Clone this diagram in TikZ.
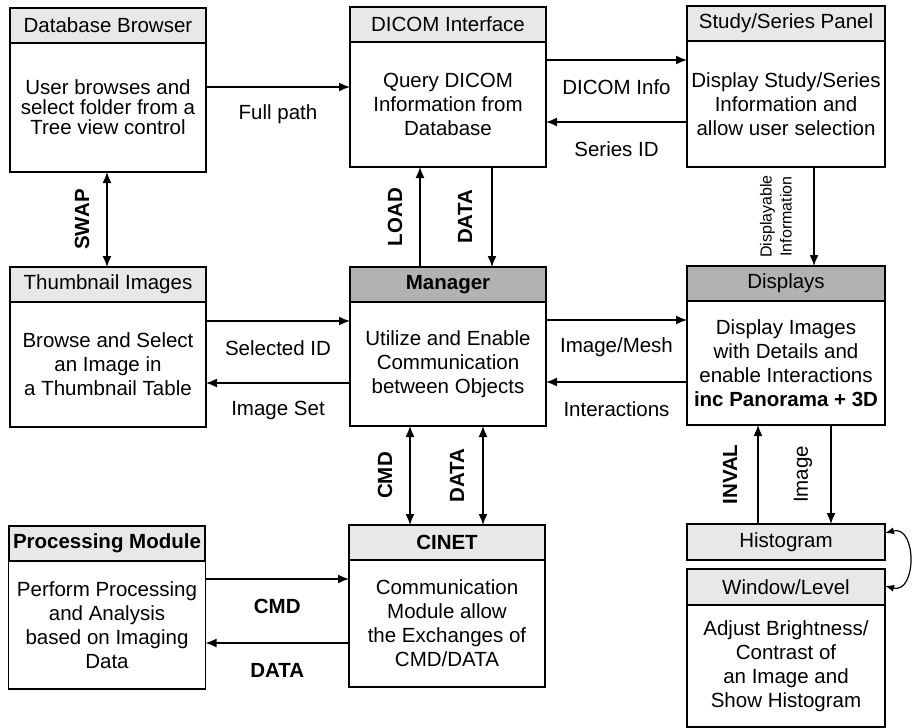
\documentclass[tikz,border=0pt]{standalone}
\usepackage{fontspec}
\setmainfont{Liberation Sans}
\usetikzlibrary{arrows.meta,positioning,calc}
\newcommand{\boxfont}{\fontsize{20.5}{24}\selectfont}
\tikzset{
    head/.style =   {rectangle,
                    fill=gray!18,
                    draw=black,
                    text=black,
                    line width=1.2pt,
                    outer sep=0pt,
                    inner sep=0pt,
                    minimum width=196pt,
                    minimum height=35pt,
                    anchor=north west},
    darkhead/.style = {head,
                    fill=gray!60},
    body/.style =   {rectangle,
                    fill=white,
                    draw=black,
                    text=black,
                    line width=1.2pt,
                    outer sep=0pt,
                    inner sep=0pt,
                    minimum width=196pt,
                    minimum height=125pt,
                    align=center},
    lab/.style =    {midway,
                    yshift=-27pt,
                    inner sep=0pt},
    vlab/.style =   {midway,
                    inner sep=0pt,
                    font=\boxfont\bfseries},
    -,
    >={Latex[length=11pt,width=9pt]},
    every node/.style = {font=\boxfont},
    link/.style =   {line width=1.5pt}}
\begin{document}
\begin{tikzpicture}[x=1pt,y=-1pt]
    \useasboundingbox (0,0) rectangle (913,728);
    % top row
    \node[head]                 (dbhead) at (10,8)   {Database Browser};
    \node[body,below=0pt of dbhead,minimum height=129pt,
          font=\fontsize{20.5}{20}\selectfont] (db)  {User browses and\\select folder from a\\Tree view control};
    \node[head]                 (dchead) at (350,7)  {DICOM Interface};
    \node[body,below=0pt of dchead]          (dc)    {Query DICOM\\Information from\\Database};
    \node[head,minimum width=198pt] (sshead) at (687,6) {Study/Series Panel};
    \node[body,below=0pt of sshead,minimum width=198pt,minimum height=126pt] (ss) {Display Study/Series\\Information and\\allow user selection};
    % middle row
    \node[head]                 (thhead) at (10,267) {Thumbnail Images};
    \node[body,below=0pt of thhead]          (th)    {Browse and Select\\an Image in\\a Thumbnail Table};
    \node[darkhead,font=\boxfont\bfseries] (mghead) at (350,267) {Manager};
    \node[body,below=0pt of mghead,minimum height=124pt] (mg) {Utilize and Enable\\Communication\\between Objects};
    \node[darkhead,minimum width=198pt] (dshead) at (687,266) {Displays};
    \node[body,below=0pt of dshead,minimum width=198pt,minimum height=124pt] (ds) {Display Images\\with Details and\\enable Interactions\\\textbf{inc Panorama + 3D}};
    % bottom row
    \node[head,font=\boxfont\bfseries] (pmhead) at (9,526) {Processing Module};
    \node[body,below=0pt of pmhead,minimum width=197pt,minimum height=128pt] (pm) {Perform Processing\\and Analysis\\based on Imaging\\Data};
    \node[head,font=\boxfont\bfseries] (cnhead) at (349,525) {CINET};
    \node[body,below=0pt of cnhead,minimum height=127pt] (cn) {Communication\\Module allow\\the Exchanges of\\CMD/DATA};
    \node[head,minimum width=198pt,minimum height=36pt] (hg) at (687,524) {Histogram};
    \node[head,minimum width=198pt,minimum height=36pt] (wlhead) at (687,569) {Window/Level};
    \node[body,below=0pt of wlhead,minimum width=198pt,minimum height=122pt] (wl) {Adjust Brightness/\\Contrast of\\an Image and\\Show Histogram};

    % horizontal links
    \draw[link,->] (db.east |- 0,87)  -- (dc.west |- 0,87)  node[lab] {Full path};
    \draw[link,->] (dc.east |- 0,60)  -- (ss.west |- 0,60)  node[lab] {DICOM Info};
    \draw[link,->] (ss.west |- 0,122) -- (dc.east |- 0,122) node[lab] {Series ID};
    \draw[link,->] (th.east |- 0,321) -- (mg.west |- 0,321) node[lab] {Selected ID};
    \draw[link,->] (mg.west |- 0,383) -- (th.east |- 0,383) node[lab] {Image Set};
    \draw[link,->] (mg.east |- 0,320) -- (ds.west |- 0,320) node[lab] {Image/Mesh};
    \draw[link,->] (ds.west |- 0,382) -- (mg.east |- 0,382) node[lab] {Interactions};
    \draw[link,->] (pm.east |- 0,579) -- (cn.west |- 0,579) node[lab,font=\boxfont\bfseries] {CMD};
    \draw[link,->] (cn.west |- 0,643) -- (pm.east |- 0,643) node[lab,font=\boxfont\bfseries] {DATA};

    % vertical links
    \draw[link,<->] (db.south -| 107,0) -- (thhead.north -| 107,0)
        node[vlab,xshift=-25pt,rotate=90] {SWAP};
    \draw[link,->] (mghead.north -| 420,0) -- (dc.south -| 420,0)
        node[vlab,xshift=-25pt,rotate=90] {LOAD};
    \draw[link,->] (dc.south -| 492,0) -- (mghead.north -| 492,0)
        node[vlab,xshift=-27pt,rotate=90] {DATA};
    \draw[link,->] (ss.south -| 814,0) -- (dshead.north -| 814,0)
        node[midway,xshift=-38pt,rotate=90,align=center,inner sep=0pt,
             font=\fontsize{16}{20}\selectfont] {Displayable\\Information};
    \draw[link,<->] (mg.south -| 410,0) -- (cnhead.north -| 410,0)
        node[vlab,xshift=-25pt,rotate=90] {CMD};
    \draw[link,<->] (mg.south -| 483,0) -- (cnhead.north -| 483,0)
        node[vlab,xshift=-26pt,rotate=90] {DATA};
    \draw[link,->] (hg.north -| 758,0) -- (ds.south -| 758,0)
        node[vlab,xshift=-28pt,rotate=90] {INVAL};
    \draw[link,->] (ds.south -| 831,0) -- (hg.north -| 831,0)
        node[midway,inner sep=0pt,xshift=-28pt,rotate=90] {Image};
    \draw[line width=1.2pt,{Latex[length=9pt,width=7pt]}-{Latex[length=9pt,width=7pt]}]
        (hg.east |- 0,533) .. controls +(32,-8) and +(32,8) .. (wlhead.east |- 0,586);
\end{tikzpicture}
\end{document}
